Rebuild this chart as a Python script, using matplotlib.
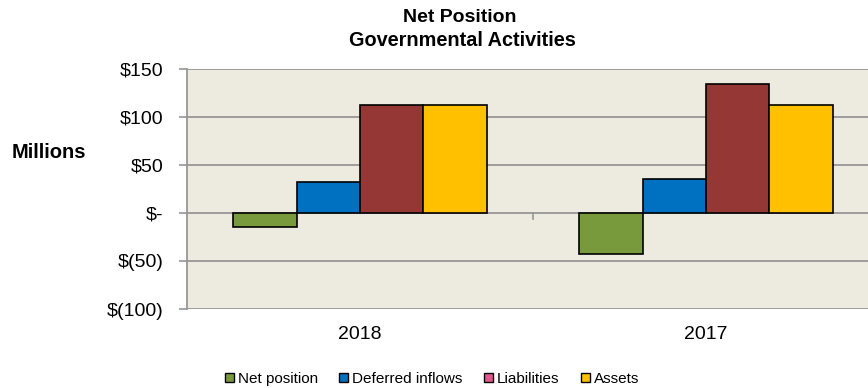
import numpy as np
import matplotlib.pyplot as plt
from matplotlib.patches import Patch

years = ["2018", "2017"]
series_names = ["Net position", "Deferred inflows", "Liabilities", "Assets"]
net_position = [-15, -43]
deferred_inflows = [32, 35]
liabilities = [112, 134]
assets = [113, 112]

y_ticks = [-100, -50, 0, 50, 100, 150]
y_tick_labels = ["$(100)", "$(50)", "$-", "$50", "$100", "$150"]

bar_colors = ["#789A3D", "#0070C0", "#953735", "#FFC000"]
legend_colors = ["#789A3D", "#0070C0", "#E0588E", "#FFC000"]
grid_color = "#969696"

plt.rcParams["font.family"] = ["Liberation Sans", "DejaVu Sans"]

fig = plt.figure(figsize=(8.68, 3.88), dpi=100)
# plot area runs slightly past the right edge of the figure
ax = fig.add_axes([187 / 868, 1 - 309 / 388, 692 / 868, 240 / 388])
ax.set_facecolor("#EDEAE0")

x = np.arange(len(years))
width = 0.183
values = [net_position, deferred_inflows, liabilities, assets]
for i, (vals, color) in enumerate(zip(values, bar_colors)):
    offset = (i - 1.5) * width
    ax.bar(x + offset, vals, width, color=color, edgecolor="black",
           linewidth=1.2, zorder=3)

ax.set_xlim(-0.5, 1.5)
ax.set_ylim(-100, 150)
ax.set_yticks(y_ticks)
ax.set_yticklabels(y_tick_labels, fontsize=14)
ax.yaxis.grid(True, color=grid_color, linewidth=1.3, zorder=1)
ax.set_axisbelow(True)
ax.tick_params(axis="y", length=6, width=1.2, color=grid_color, pad=11)

ax.set_xticks(x)
ax.set_xticklabels(years, fontsize=14)
ax.tick_params(axis="x", length=0, pad=12)

for side in ["top", "right", "bottom"]:
    ax.spines[side].set_visible(False)
ax.spines["left"].set_color(grid_color)
ax.spines["left"].set_linewidth(1.3)

# category divider tick on the zero axis
ax.plot([0.5, 0.5], [0, -6], color=grid_color, linewidth=1.2, zorder=2)

fig.text(460 / 868, 1 - 17 / 388, "Net Position", ha="center", va="center",
         fontsize=14, fontweight="bold")
fig.text(462 / 868, 1 - 40 / 388, "Governmental Activities", ha="center",
         va="center", fontsize=14.3, fontweight="bold")
fig.text(12 / 868, 1 - 153 / 388, "Millions", ha="left", va="center",
         fontsize=14.5, fontweight="bold")

handles = [Patch(facecolor=c, edgecolor="black", linewidth=1.0)
           for c in legend_colors]
fig.legend(handles, series_names, loc="center", ncol=4,
           bbox_to_anchor=(432 / 868, 1 - 379 / 388), frameon=False,
           fontsize=11, handlelength=0.6, handleheight=0.6,
           handletextpad=0.25, columnspacing=1.4)

fig.savefig("out.png", dpi=100)
